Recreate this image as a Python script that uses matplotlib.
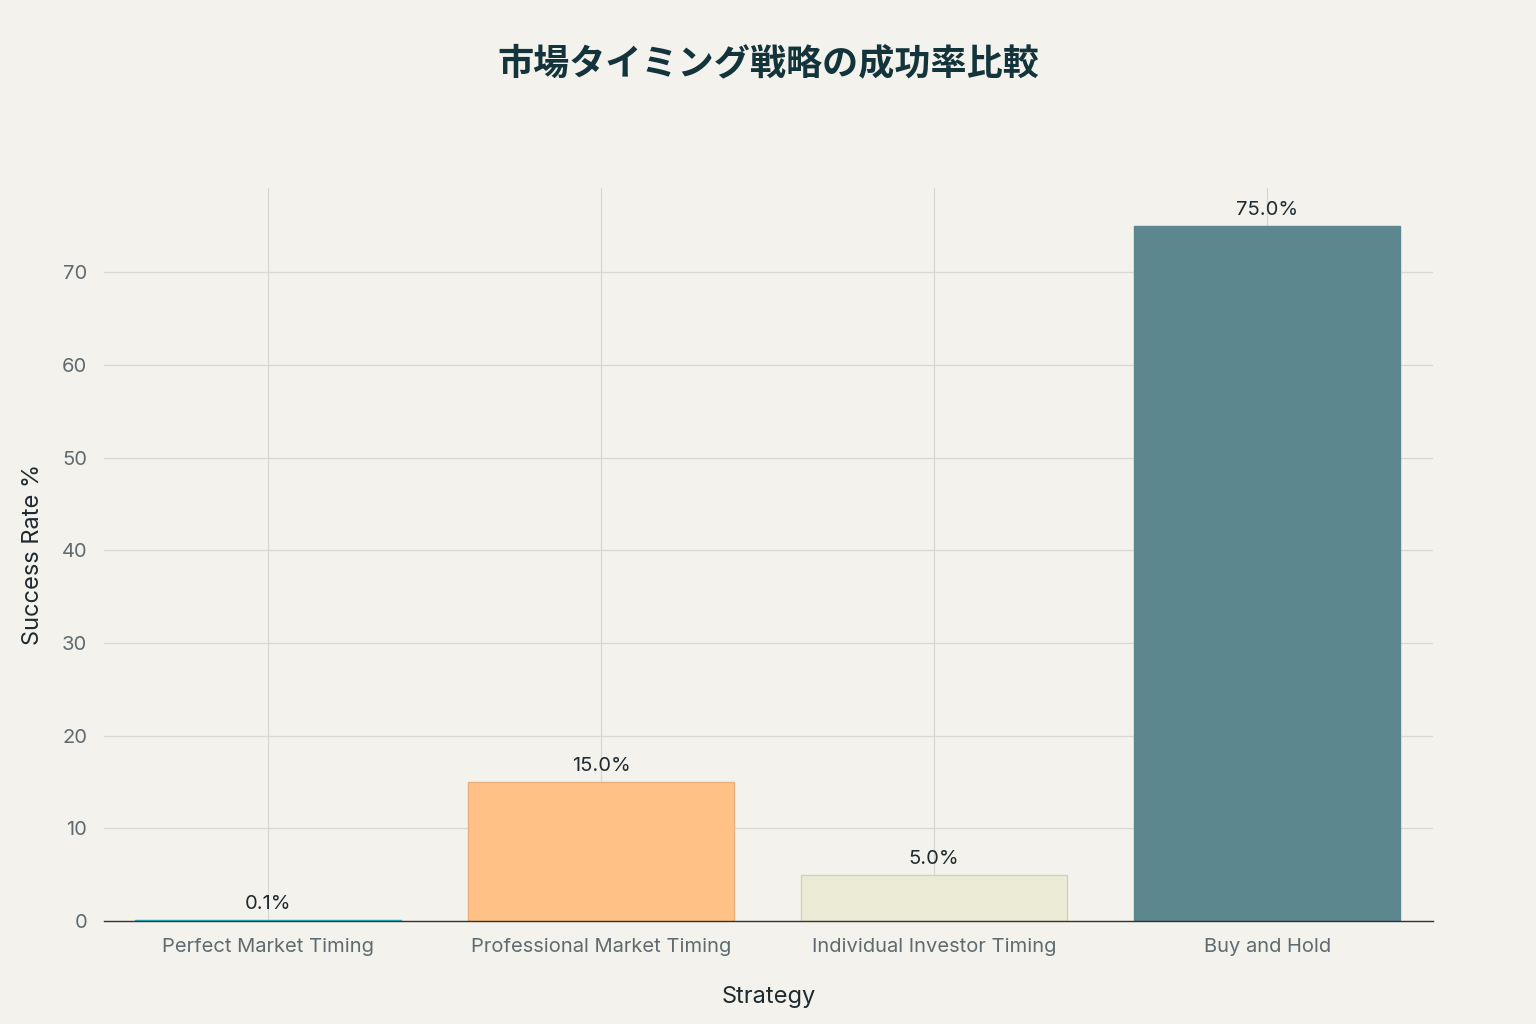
import matplotlib
matplotlib.use("Agg")
import matplotlib.pyplot as plt

categories = ["Perfect Market Timing", "Professional Market Timing",
              "Individual Investor Timing", "Buy and Hold"]
values = [0.1, 15.0, 5.0, 75.0]
colors = ["#1FB8CD", "#FFC185", "#ECEBD5", "#5D878F"]
edges = ["#1FB8CD", "#E8B07C", "#D3D2BF", "#5D878F"]
yticks = [0, 10, 20, 30, 40, 50, 60, 70]

plt.rcParams['font.family'] = ['Inter', 'Noto Sans CJK JP', 'DejaVu Sans']

bg = "#F3F2EC"
fig = plt.figure(figsize=(15.36, 10.24), dpi=100, facecolor=bg)
ax = fig.add_axes([0.0677, 0.1006, 0.8652, 0.7158], facecolor=bg)

x = list(range(len(categories)))
bars = ax.bar(x, values, width=0.8, color=colors, edgecolor=edges, linewidth=1.0, zorder=3)
for xi, v in zip(x, values):
    ax.annotate(f"{v:.1f}%", (xi, v), xytext=(0, 5), textcoords="offset points",
                ha="center", va="bottom", fontsize=14.5, color="#1F2A30", zorder=4)

ax.set_xlim(-0.493, 3.498)
ax.set_ylim(0, 79.1)
ax.set_yticks(yticks)
ax.set_xticks(x)
ax.set_xticklabels(categories)
ax.grid(True, color="#D8D8D2", linewidth=0.9, zorder=0)
ax.tick_params(axis="both", length=0, labelsize=14.5, labelcolor="#5F6B70")
ax.tick_params(axis="x", pad=12)
ax.tick_params(axis="y", pad=12)
for s in ["top", "right", "left"]:
    ax.spines[s].set_visible(False)
ax.spines["bottom"].set_color("#333333")
ax.spines["bottom"].set_linewidth(1.0)
ax.spines["bottom"].set_zorder(5)

ax.set_xlabel("Strategy", fontsize=17, color="#1F2A30", labelpad=22)
ax.set_ylabel("Success Rate %", fontsize=17, color="#1F2A30", labelpad=13)

fig.text(0.5, 0.938, "市場タイミング戦略の成功率比較", ha="center", va="center",
         fontsize=26, fontweight="bold", color="#13343B",
         family=['Noto Sans CJK JP', 'DejaVu Sans'])

fig.savefig("out.png", dpi=100, facecolor=bg)
